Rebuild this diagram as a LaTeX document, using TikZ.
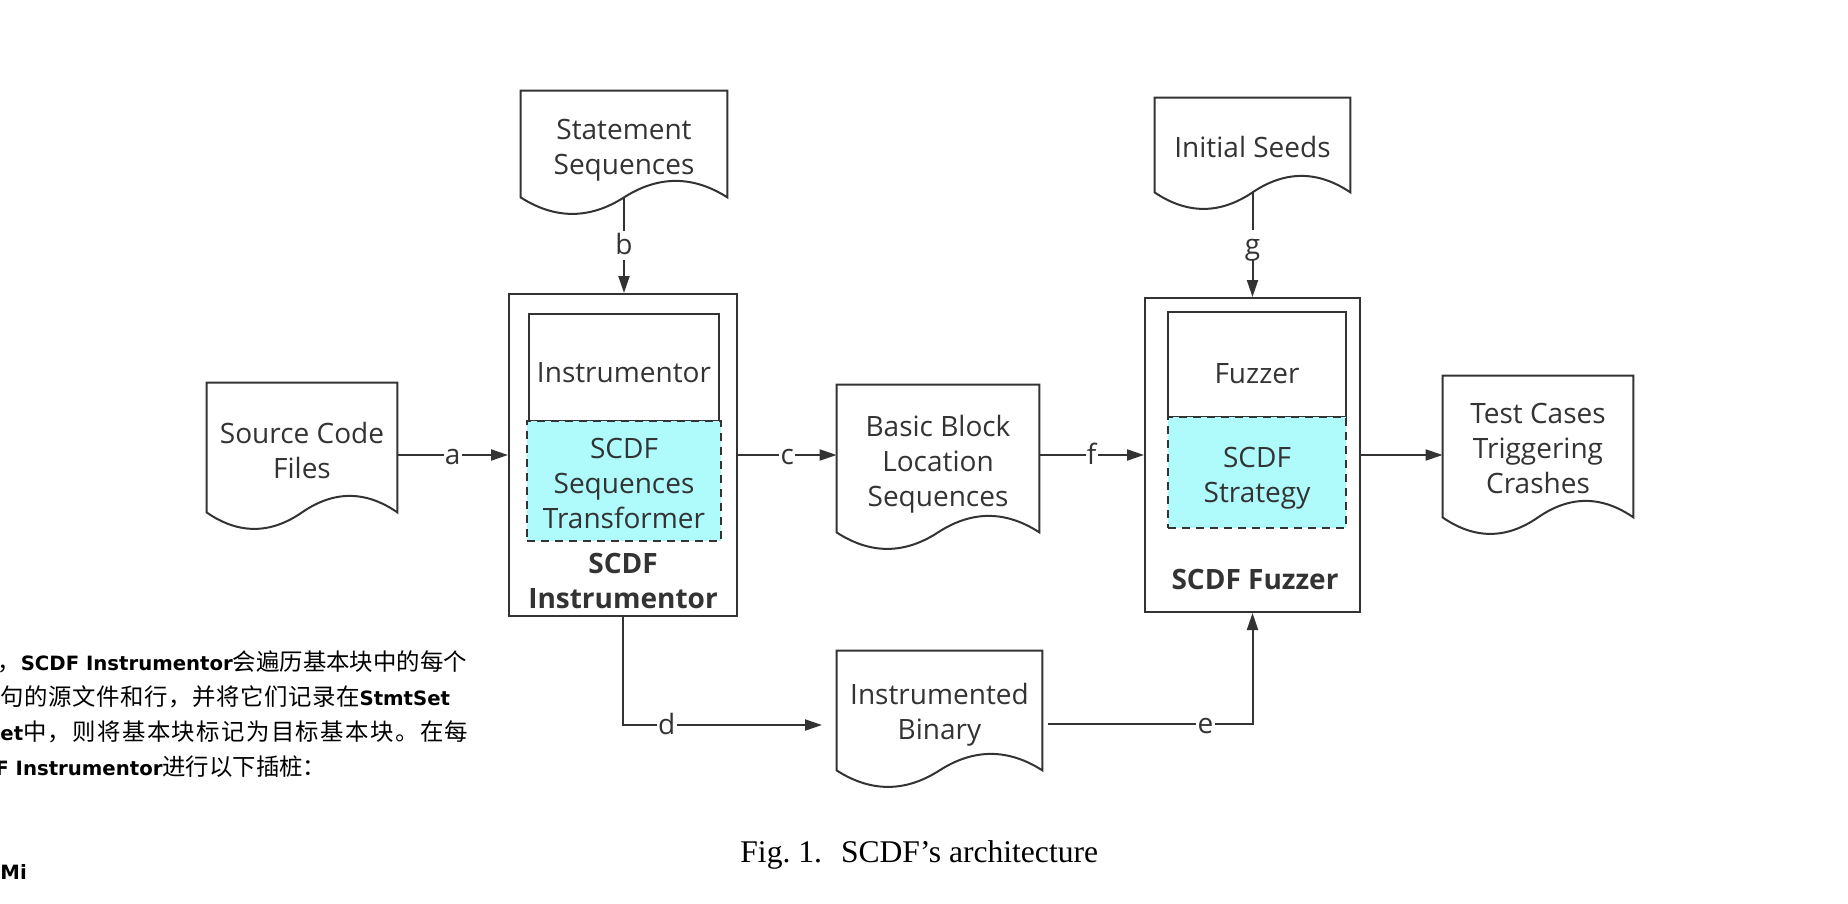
\documentclass[tikz,border=0pt]{standalone}
\usepackage{fontspec}
\setmainfont{Open Sans}
\newfontfamily\capfont{Liberation Serif}
\newfontfamily\cjkfont{Noto Sans CJK SC}
\newfontfamily\cjkwa[LetterSpace=2.5]{Noto Sans CJK SC}
\newfontfamily\cjkwb[LetterSpace=6]{Noto Sans CJK SC}
\newfontfamily\latbold{DejaVu Sans}
\usetikzlibrary{arrows.meta,calc}
\definecolor{ink}{HTML}{333333}
\definecolor{cyanfill}{HTML}{AFFBFC}
\newcommand{\docpath}[1]{%
  \draw[ln] (#1.south west) -- (#1.north west) -- (#1.north east) -- (#1.south east)
    .. controls ($(#1.south east)!1/6!(#1.south west)+(0,-22)$) and ($(#1.south east)!1/3!(#1.south west)+(0,-22)$) .. (#1.south)
    .. controls ($(#1.south east)!2/3!(#1.south west)+(0,22)$) and ($(#1.south east)!5/6!(#1.south west)+(0,22)$) .. (#1.south west) -- cycle;}
\tikzset{
  ln/.style={draw=ink, line width=1pt},
  arr/.style={ln, -{Triangle[length=8.5pt,width=5.5pt]}},
  txt/.style={font=\fontsize{14}{17.5}\selectfont, text=ink, align=center, inner sep=0pt},
  btxt/.style={txt, font=\fontsize{14}{17.5}\selectfont\bfseries},
  doc/.style={rectangle, inner sep=0pt},
  box/.style={ln, rectangle, inner sep=0pt},
  dbox/.style={ln, dash pattern=on 4pt off 3pt, fill=cyanfill, rectangle, inner sep=0pt},
  lbl/.style={fill=white, inner xsep=0.6pt, inner ysep=0pt, font=\fontsize{14}{16}\selectfont, text=ink, text height=1.18em, text depth=0.25em},
  side/.style={anchor=west, inner sep=0pt, text=black, font=\cjkfont\fontsize{11.7}{14}\selectfont},
}
\newcommand{\lb}[1]{{\latbold\bfseries\fontsize{9.85}{12}\selectfont #1}}
\begin{document}
\begin{tikzpicture}[x=0.5pt,y=-0.5pt]
\fill[white] (0,0) rectangle (1848,904);
\useasboundingbox (0,0) rectangle (1848,904);

% document shapes
\node[doc, minimum width=103pt, minimum height=53pt] (ss) at (624,144) {};
\docpath{ss}
\node[txt] (sst) at (624,150.5) {Statement\\Sequences};
\node[doc, minimum width=95pt, minimum height=64.5pt] (src) at (302,447.5) {};
\docpath{src}
\node[txt] (srct) at (302,450.5) {Source Code\\Files};
\node[doc, minimum width=101pt, minimum height=73.5pt] (bb) at (938,458.5) {};
\docpath{bb}
\node[txt] (bbt) at (938,464) {Basic Block\\Location\\Sequences};
\node[doc, minimum width=95pt, minimum height=70.5pt] (tc) at (1538,446.5) {};
\docpath{tc}
\node[txt] (tct) at (1538,448.5) {Test Cases\\Triggering\\Crashes};
\node[doc, minimum width=97.5pt, minimum height=47pt] (seeds) at (1252.5,145) {};
\docpath{seeds}
\node[txt] (seedst) at (1252.5,146.5) {Initial Seeds};
\node[doc, minimum width=102.5pt, minimum height=59.5pt] (ib) at (939.5,710.5) {};
\docpath{ib}
\node[txt] (ibt) at (939.5,714.5) {Instrumented\\Binary};

% SCDF Instrumentor
\node[box, minimum width=114pt, minimum height=161pt] (instr) at (623,455) {};
\node[box, minimum width=95pt, minimum height=53.5pt] (inst) at (624,367.5) {};
\node[txt] (instt) at (624,372.5) {Instrumentor};
\node[dbox, minimum width=97pt, minimum height=60pt] (tr) at (624,481) {};
\node[txt] (trt) at (624,483) {SCDF\\Sequences\\Transformer};
\node[btxt] (instrlbl) at (623,581) {SCDF\\Instrumentor};

% SCDF Fuzzer
\node[box, minimum width=107.5pt, minimum height=157pt] (fuzz) at (1252.5,455) {};
\node[box, minimum width=89pt, minimum height=52.5pt] (fz) at (1257,364.5) {};
\node[txt] (fzt) at (1257,374) {Fuzzer};
\node[dbox, minimum width=89pt, minimum height=55.5pt] (st) at (1257,472.5) {};
\node[txt] (stt) at (1257,478) {SCDF\\Strategy};
\node[btxt] (fuzzlbl) at (1255,579) {SCDF Fuzzer};

% connectors
\coordinate (dend) at (822,725);
\coordinate (estart) at (1048,724);
\draw[arr] (src.east |- instr.west) -- node[lbl]{a} (instr.west);
\draw[arr] (ss.south) -- node[lbl]{b} (ss.south |- instr.north);
\draw[arr] (instr.east) -- node[lbl]{c} (bb.west |- instr.east);
\draw[arr] (bb.east |- fuzz.west) -- node[lbl]{f} (fuzz.west);
\draw[arr] (seeds.south) -- node[lbl]{g} (seeds.south |- fuzz.north);
\draw[arr] (fuzz.east) -- (tc.west |- fuzz.east);
\draw[arr] (instr.south) -- (instr.south |- dend) -- node[lbl, pos=0.22]{d} (dend);
\draw[arr] (estart) -- node[lbl, pos=0.77]{e} (fuzz.south |- estart) -- (fuzz.south);

% caption
\node[anchor=base west, inner sep=0pt, font=\capfont\fontsize{15.8}{18}\selectfont] (cap) at (740,862) {Fig.~1.\hspace{0.6em}SCDF’s architecture};

% text of the neighbouring page
\node[side] (p1) at (-3,662) {，\lb{SCDF Instrumentor}会遍历基本块中的每个};
\node[side, font=\cjkwa\fontsize{11.7}{14}\selectfont] (p2) at (0,697) {句的源文件和行，并将它们记录在\lb{StmtSet}};
\node[side, font=\cjkwb\fontsize{11.7}{14}\selectfont] (p3) at (0,732) {\lb{et}中，则将基本块标记为目标基本块。在每};
\node[side] (p4) at (-5,767) {\lb{F Instrumentor}进行以下插桩：};
\node[side] (p5) at (0,872) {\lb{Mi}};
\end{tikzpicture}
\end{document}
